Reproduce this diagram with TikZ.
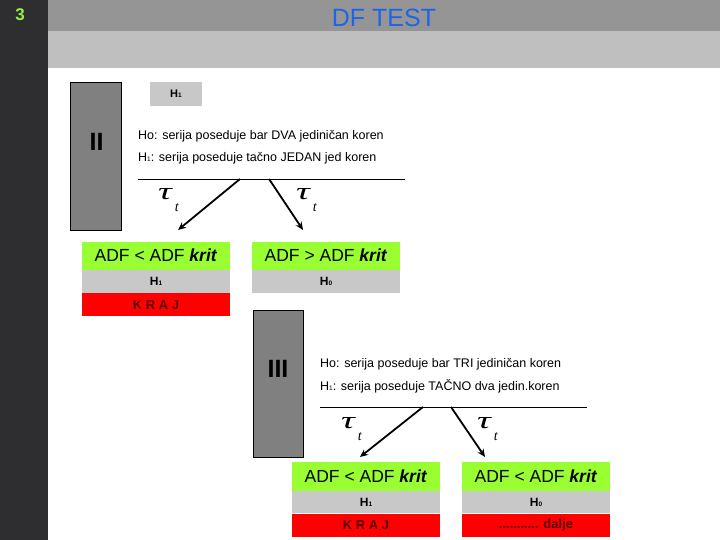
\documentclass[tikz,border=0pt]{standalone}
\usepackage{fontspec}
\usepackage{graphicx}
\setmainfont{Liberation Sans}
\newfontfamily\taufont{Liberation Serif}
\usetikzlibrary{arrows.meta,positioning,calc}

\definecolor{barDark}{RGB}{46,46,48}
\definecolor{bandTop}{RGB}{149,149,149}
\definecolor{bandLow}{RGB}{191,191,191}
\definecolor{numGreen}{RGB}{153,238,68}
\definecolor{titleBlue}{RGB}{30,100,230}
\definecolor{stageGray}{RGB}{128,128,128}
\definecolor{rowGray}{RGB}{200,200,200}
\definecolor{limeGreen}{RGB}{153,255,51}
\definecolor{krajRed}{RGB}{255,0,0}
\definecolor{krajText}{RGB}{90,0,0}

\newcommand{\hsub}[1]{H{\fontsize{6.5}{6.5}\selectfont #1}}
\newcommand{\taut}{{\taufont\itshape\scalebox{1.6}[1]{\fontsize{24}{24}\selectfont τ}\kern3pt\raisebox{-12pt}{\fontsize{14}{14}\selectfont t}}}

\begin{document}
\begin{tikzpicture}[
  x=1pt,y=-1pt,
  stagebox/.style={draw=black,line width=0.8pt,fill=stageGray,minimum width=51pt,inner sep=0pt},
  numeral/.style={font=\bfseries\fontsize{25}{27}\selectfont},
  hyptext/.style={anchor=base west,inner sep=0pt,font=\fontsize{12.5}{14}\selectfont},
  crit/.style={fill=limeGreen,minimum width=148pt,minimum height=28pt,inner sep=0pt,font=\fontsize{17.5}{19}\selectfont},
  hyprow/.style={fill=rowGray,minimum width=148pt,minimum height=23pt,inner sep=0pt,font=\bfseries\fontsize{12}{13}\selectfont},
  krajrow/.style={fill=krajRed,text=krajText,minimum width=148pt,minimum height=23pt,inner sep=0pt,font=\bfseries\fontsize{13}{14}\selectfont},
  tautext/.style={anchor=base west,inner sep=0pt},
  branch/.style={line width=1.8pt,-{Stealth[length=8pt,width=7pt]}},
  node distance=0pt
]
  \useasboundingbox (0,0) rectangle (720,540);

  % Background bands
  \fill[bandTop] (48,0) rectangle (720,31);
  \fill[bandLow] (48,31) rectangle (720,68);
  \fill[barDark] (0,0) rectangle (48,540);
  \node[text=numGreen,font=\bfseries\fontsize{17}{19}\selectfont] (num) at (20,15) {3};
  \node[text=titleBlue,font=\fontsize{25}{27}\selectfont] (title) at (384,18) {DF TEST};

  % Stage II
  \node[stagebox,minimum height=148pt] (st2) at (96,156) {};
  \node[numeral] (n2) at (96.5,142) {II};
  \node[fill=rowGray,minimum width=52pt,minimum height=24pt,inner sep=0pt,
        font=\bfseries\fontsize{11}{12}\selectfont] (tag2) at (176,94) {\hsub{1}};
  \node[hyptext] (h02) at (138,140) {Ho: serija poseduje bar DVA jediničan koren};
  \node[hyptext] (h12) at (138,162) {\hsub{1}: serija poseduje tačno JEDAN jed koren};
  \coordinate (ln2a) at (138,179);
  \coordinate (ln2b) at (405,179);
  \draw[line width=0.8pt] (ln2a) -- (ln2b);
  \coordinate (br2l) at (240,179);
  \coordinate (br2r) at (269,179);
  \coordinate (tip2l) at (178,230);
  \coordinate (tip2r) at (303,230);
  \draw[branch] (br2l) -- (tip2l);
  \draw[branch] (br2r) -- (tip2r);
  \node[tautext] (tau2l) at (158,200) {\taut};
  \node[tautext] (tau2r) at (296,200) {\taut};

  \node[crit] (c2l) at (156,255.5) {ADF < ADF \textbf{\itshape krit}};
  \node[hyprow,below=of c2l] (r2l) {\hsub{1}};
  \node[krajrow,below=of r2l] (k2l) {K R A J};
  \node[crit] (c2r) at (326,255.5) {ADF > ADF \textbf{\itshape krit}};
  \node[hyprow,below=of c2r] (r2r) {\hsub{0}};

  % Stage III
  \node[stagebox,minimum width=50pt,minimum height=147pt] (st3) at (278,383.5) {};
  \node[numeral] (n3) at (278,369) {III};
  \node[hyptext] (h03) at (320,367) {Ho: serija poseduje bar TRI jediničan koren};
  \node[hyptext] (h13) at (320,390) {\hsub{1}: serija poseduje TAČNO dva jedin.koren};
  \coordinate (ln3a) at (320,407);
  \coordinate (ln3b) at (587,407);
  \draw[line width=0.8pt] (ln3a) -- (ln3b);
  \coordinate (br3l) at (423,407);
  \coordinate (br3r) at (451,407);
  \coordinate (tip3l) at (360,457);
  \coordinate (tip3r) at (485,457);
  \draw[branch] (br3l) -- (tip3l);
  \draw[branch] (br3r) -- (tip3r);
  \node[tautext] (tau3l) at (341,428) {\taut};
  \node[tautext] (tau3r) at (477,428) {\taut};

  \node[crit,minimum height=29pt] (c3l) at (366,476.5) {ADF < ADF \textbf{\itshape krit}};
  \node[hyprow,minimum height=22pt,below=of c3l] (r3l) {\hsub{1}};
  \node[krajrow,below=of r3l] (k3l) {K R A J};
  \node[crit,minimum height=29pt] (c3r) at (536,476.5) {ADF < ADF \textbf{\itshape krit}};
  \node[hyprow,minimum height=22pt,below=of c3r] (r3r) {\hsub{0}};
  \node[krajrow,below=of r3r] (k3r) {........... dalje};
\end{tikzpicture}
\end{document}
